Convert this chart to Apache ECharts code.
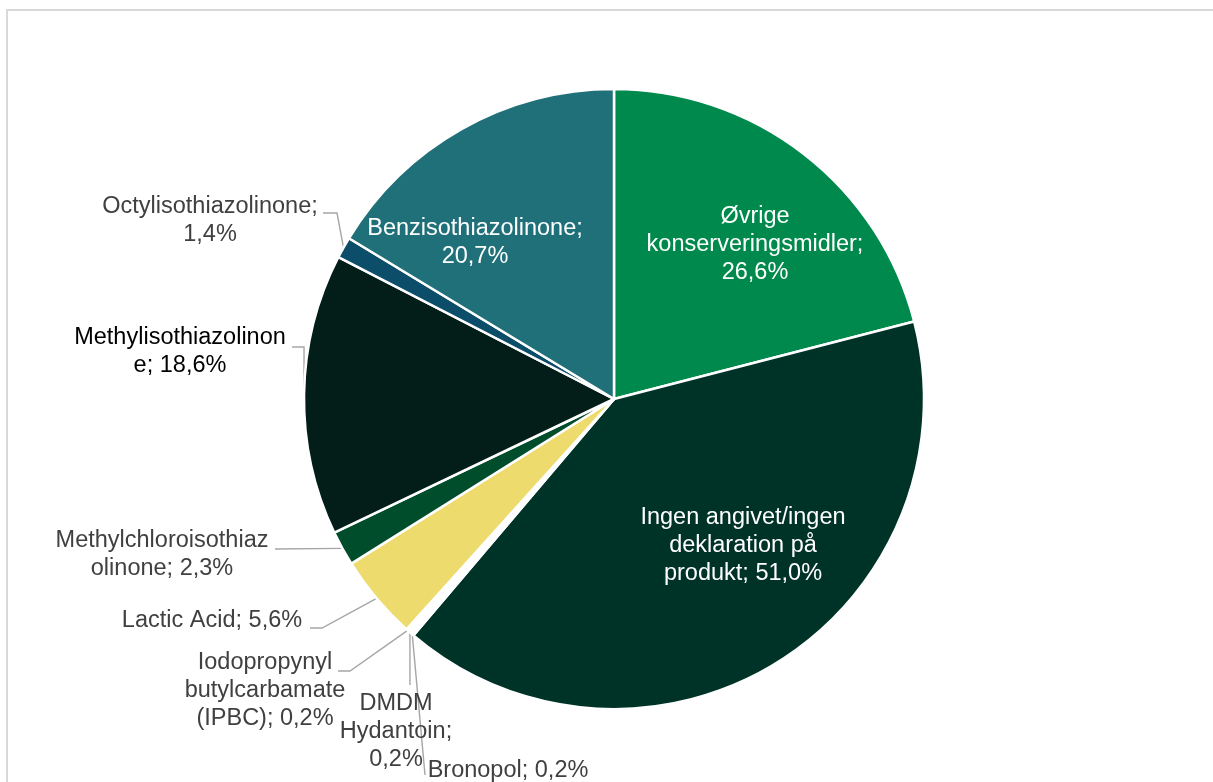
<!DOCTYPE html>
<html>
<head>
<meta charset="utf-8">
<style>
  html, body { margin: 0; padding: 0; background: #ffffff; }
  #chart { width: 1213px; height: 782px; }
</style>
<script src="https://cdn.jsdelivr.net/npm/echarts@6/dist/echarts.min.js"></script>
</head>
<body>
<div id="chart"></div>
<script>
// Preservatives declared on products (share of products, %), clockwise from 12 o'clock
const categories = [
  'Øvrige konserveringsmidler',
  'Ingen angivet/ingen deklaration på produkt',
  'Bronopol',
  'DMDM Hydantoin',
  'Iodopropynyl butylcarbamate (IPBC)',
  'Lactic Acid',
  'Methylchloroisothiazolinone',
  'Methylisothiazolinone',
  'Octylisothiazolinone',
  'Benzisothiazolinone'
];
const shares = [26.6, 51.0, 0.2, 0.2, 0.2, 5.6, 2.3, 18.6, 1.4, 20.7];
// Label text with the wrapping used on the chart; {v} is replaced by the value
const labelTexts = [
  'Øvrige\nkonserveringsmidler;\n{v}',
  'Ingen angivet/ingen\ndeklaration på\nprodukt; {v}',
  'Bronopol; {v}',
  'DMDM\nHydantoin;\n{v}',
  'Iodopropynyl\nbutylcarbamate\n(IPBC); {v}',
  'Lactic Acid; {v}',
  'Methylchloroisothiaz\nolinone; {v}',
  'Methylisothiazolinon\ne; {v}',
  'Octylisothiazolinone;\n{v}',
  'Benzisothiazolinone;\n{v}'
];

const sliceColors = ['#00894C', '#003328', '#FFFFFF', '#FFFFFF', '#FFFFFF',
                     '#EDDB6E', '#004D2C', '#031D18', '#0C4D69', '#20707A'];
const insideLabel = [true, true, false, false, false, false, false, false, false, true];
const labelColors = ['#FFFFFF', '#FFFFFF', '#404040', '#404040', '#404040',
                     '#404040', '#404040', '#000000', '#404040', '#FFFFFF'];

// Label placement: centre of each label box and how its leader line attaches
const labelPlacement = [
  { x: 755, y: 245 },
  { x: 743, y: 546 },
  { x: 508, y: 771, kind: 'direct', ax: -83, ay: 4 },
  { x: 396, y: 732, kind: 'down', ay: -47 },
  { x: 265, y: 691, kind: 'elbow', ax: 73, ay: -20, len: 12 },
  { x: 212, y: 621, kind: 'elbow', ax: 98, ay: 7, len: 12 },
  { x: 162, y: 555, kind: 'direct', ax: 113, ay: -6 },
  { x: 180, y: 352, kind: 'corner', ax: 112, ay: -5 },
  { x: 210, y: 221, kind: 'elbow', ax: 113, ay: -8, len: 14 },
  { x: 475, y: 243 }
];

function fmt(v) {
  return v.toFixed(1).replace('.', ',') + '%';
}

const pieData = categories.map(function (name, i) {
  return {
    name: name,
    value: shares[i],
    itemStyle: { color: sliceColors[i] },
    label: {
      position: insideLabel[i] ? 'inside' : 'outside',
      color: labelColors[i]
    },
    labelLine: { show: !insideLabel[i] }
  };
});

const chart = echarts.init(document.getElementById('chart'), null, { renderer: 'canvas' });

chart.setOption({
  backgroundColor: '#FFFFFF',
  animation: false,
  graphic: [{
    type: 'rect',
    silent: true,
    shape: { x: 7, y: 10, width: 1240, height: 800 },
    style: { fill: 'none', stroke: '#D9D9D9', lineWidth: 2 }
  }],
  series: [{
    type: 'pie',
    center: [614, 399],
    radius: [0, 310],
    startAngle: 90,
    clockwise: true,
    avoidLabelOverlap: false,
    minShowLabelAngle: 0,
    itemStyle: { borderColor: '#FFFFFF', borderWidth: 2.5 },
    label: {
      show: true,
      fontFamily: '"Liberation Sans", Arial, sans-serif',
      fontSize: 23.5,
      lineHeight: 28,
      align: 'center',
      formatter: function (p) {
        return labelTexts[p.dataIndex].replace('{v}', fmt(p.value));
      }
    },
    labelLine: {
      show: true,
      smooth: false,
      lineStyle: { color: '#A6A6A6', width: 1.4 }
    },
    labelLayout: function (p) {
      const s = labelPlacement[p.dataIndex];
      const out = { x: s.x, y: s.y, align: 'center', verticalAlign: 'middle', hideOverlap: false };
      const pts = p.labelLinePoints;
      if (s.kind && pts && pts.length) {
        const e = pts[0];
        let line;
        if (s.kind === 'elbow') {
          const a = [s.x + s.ax, s.y + s.ay];
          line = [e, [a[0] + s.len, a[1]], a];
        } else if (s.kind === 'corner') {
          const a = [s.x + s.ax, s.y + s.ay];
          line = [e, [e[0], a[1]], a];
        } else if (s.kind === 'down') {
          line = [e, [e[0], s.y + s.ay]];
        } else {
          line = [e, [s.x + s.ax, s.y + s.ay]];
        }
        out.labelLinePoints = line;
      }
      return out;
    },
    data: pieData
  }]
});
</script>
</body>
</html>
